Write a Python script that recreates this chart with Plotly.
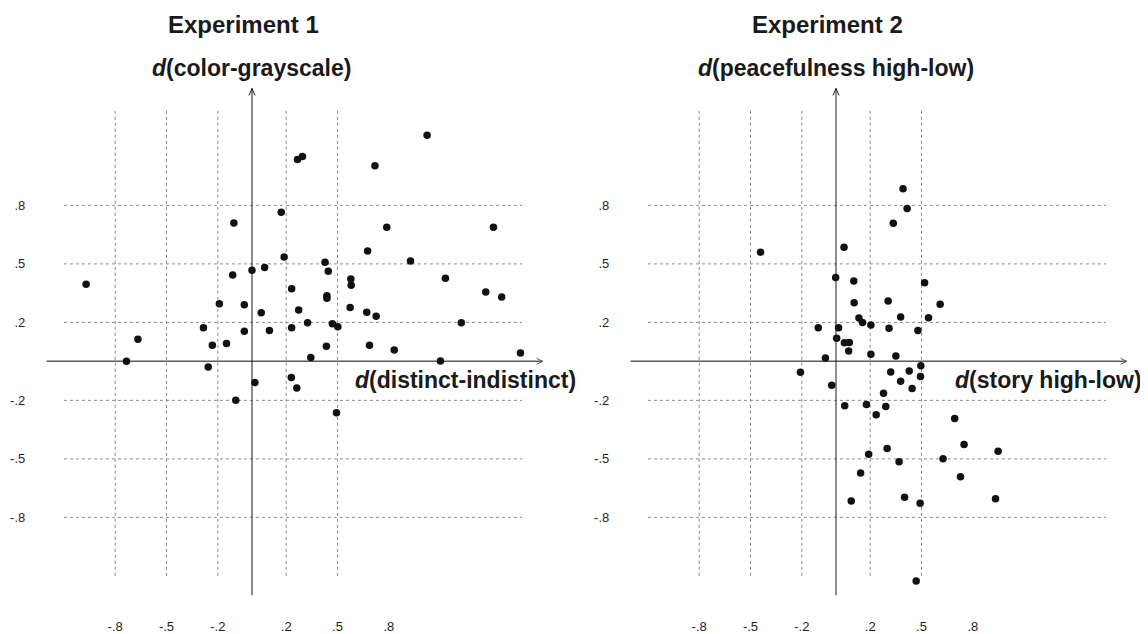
import plotly.graph_objects as go

# ---------------- data ----------------
exp1_x = [-0.970, -0.734, -0.667, -0.284, -0.232, -0.256, -0.191, -0.149, -0.113, -0.106,
          -0.045, -0.045, 0.000, 0.054, 0.074, 0.102, 0.171, 0.188, 0.232, 0.232,
          0.266, 0.295, 0.273, 0.325, 0.344, 0.427, 0.446, 0.438, 0.438, 0.435,
          0.470, 0.502, 0.574, 0.578, 0.580, 0.671, 0.676, 0.687, 0.719, 0.726,
          0.788, 0.832, 0.927, 1.024, 1.102, 1.131, 1.224, 1.367, 1.412, 1.460,
          1.570, 0.017, 0.230, 0.262, -0.095, 0.494]
exp1_y = [0.395, 0.000, 0.114, 0.172, 0.083, -0.029, 0.296, 0.092, 0.443, 0.710,
          0.291, 0.155, 0.467, 0.249, 0.481, 0.158, 0.765, 0.535, 0.373, 0.172,
          1.036, 1.051, 0.264, 0.198, 0.020, 0.508, 0.462, 0.337, 0.324, 0.078,
          0.193, 0.177, 0.276, 0.423, 0.390, 0.252, 0.566, 0.083, 1.004, 0.232,
          0.688, 0.058, 0.515, 1.160, 0.002, 0.426, 0.198, 0.356, 0.688, 0.330,
          0.043, -0.109, -0.083, -0.136, -0.199, -0.264]

exp2_x = [-0.441, 0.047, -0.002, 0.104, 0.106, 0.134, 0.155, 0.204, -0.104, 0.015,
          0.004, 0.049, 0.078, 0.074, -0.062, 0.204, 0.350, 0.305, 0.310, 0.378,
          0.335, 0.392, 0.416, 0.518, 0.541, 0.479, 0.609, -0.208, -0.025, 0.051,
          0.178, 0.235, 0.291, 0.278, 0.320, 0.378, 0.428, 0.445, 0.496, 0.494,
          0.694, 0.749, 0.948, 0.299, 0.191, 0.369, 0.626, 0.144, 0.728, 0.089,
          0.401, 0.492, 0.933, 0.469]
exp2_y = [0.560, 0.585, 0.430, 0.412, 0.301, 0.223, 0.199, 0.187, 0.172, 0.172,
          0.119, 0.095, 0.097, 0.053, 0.017, 0.036, 0.027, 0.310, 0.170, 0.228,
          0.709, 0.886, 0.784, 0.403, 0.224, 0.158, 0.293, -0.056, -0.122, -0.228,
          -0.221, -0.274, -0.231, -0.163, -0.054, -0.102, -0.049, -0.139, -0.022, -0.078,
          -0.293, -0.427, -0.461, -0.447, -0.476, -0.515, -0.500, -0.573, -0.592, -0.716,
          -0.697, -0.728, -0.704, -1.126]

x_tick_vals = [-0.8, -0.5, -0.2, 0.2, 0.5, 0.8]
x_tick_text = ["-.8", "-.5", "-.2", ".2", ".5", ".8"]
y_tick_vals = [0.8, 0.5, 0.2, -0.2, -0.5, -0.8]
y_tick_text = [".8", ".5", ".2", "-.2", "-.5", "-.8"]
vgrid_vals = [-0.8, -0.5, -0.2, 0.2, 0.5]
hgrid_vals = [0.8, 0.5, 0.2, -0.2, -0.5, -0.8]

panel_titles = ["Experiment 1", "Experiment 2"]
y_titles = ["<b><i>d</i>(color-grayscale)</b>", "<b><i>d</i>(peacefulness high-low)</b>"]
x_titles = ["<b><i>d</i>(distinct-indistinct)</b>", "<b><i>d</i>(story high-low)</b>"]
x_title_right = [0.5, 0.9965]

FONT = "Liberation Sans, Arial, Helvetica, sans-serif"
XR = [-1.25, 1.75]
YR = [-1.25, 1.45]
W, H = 1140, 626   # page body has an 8px default margin

fig = go.Figure()
fig.add_trace(go.Scatter(x=exp1_x, y=exp1_y, mode="markers", xaxis="x", yaxis="y",
                         marker=dict(color="#111111", size=7.5), showlegend=False,
                         cliponaxis=False))
fig.add_trace(go.Scatter(x=exp2_x, y=exp2_y, mode="markers", xaxis="x2", yaxis="y2",
                         marker=dict(color="#111111", size=7.5), showlegend=False,
                         cliponaxis=False))

tickfont = dict(family=FONT, size=13, color="#1e1e1e")
ydom = [0.043131, 0.886741]


def xaxis(dom, anchor):
    return dict(domain=dom, range=XR, showgrid=False, zeroline=False, showline=False,
                ticks="", tickvals=x_tick_vals, ticktext=x_tick_text, tickfont=tickfont,
                ticklabelstandoff=12, anchor=anchor)


def yaxis(anchor):
    return dict(domain=ydom, range=YR, showgrid=False, zeroline=False, showline=False,
                ticks="", tickvals=y_tick_vals, ticktext=y_tick_text, tickfont=tickfont,
                ticklabelstandoff=12, anchor=anchor)


fig.update_layout(
    width=W, height=H,
    margin=dict(l=0, r=0, t=0, b=0),
    paper_bgcolor="white", plot_bgcolor="white",
    font=dict(family=FONT, color="#111111"),
    xaxis=xaxis([0.026535, 0.476535], "y"),
    yaxis=yaxis("x"),
    xaxis2=xaxis([0.538816, 0.988816], "y2"),
    yaxis2=yaxis("x2"),
)

shapes = []
annotations = []
for i, (xa, ya) in enumerate([("x", "y"), ("x2", "y2")]):
    for gx in vgrid_vals:
        shapes.append(dict(type="line", xref=xa, yref=ya, x0=gx, x1=gx, y0=-1.1, y1=1.3,
                           line=dict(color="#8a8a8a", width=1, dash="dot"), layer="below"))
    for gy in hgrid_vals:
        shapes.append(dict(type="line", xref=xa, yref=ya, x0=-1.1, x1=1.58, y0=gy, y1=gy,
                           line=dict(color="#8a8a8a", width=1, dash="dot"), layer="below"))
    shapes.append(dict(type="line", xref=xa, yref=ya, x0=-1.2, x1=1.7, y0=0, y1=0,
                       line=dict(color="#5a5a5a", width=1.5), layer="below"))
    shapes.append(dict(type="line", xref=xa, yref=ya, x0=0, x1=0, y0=-1.2, y1=1.4,
                       line=dict(color="#1a1a1a", width=1), layer="below"))
    shapes.append(dict(type="path", xref=xa, yref=ya, xsizemode="pixel", ysizemode="pixel",
                       xanchor=1.7, yanchor=0, path="M-6,3 L0,0 L-6,-3",
                       line=dict(color="#5a5a5a", width=1), layer="below"))
    shapes.append(dict(type="path", xref=xa, yref=ya, xsizemode="pixel", ysizemode="pixel",
                       xanchor=0, yanchor=1.4, path="M-3,-7 L0,0 L3,-7",
                       line=dict(color="#1a1a1a", width=1), layer="below"))
    annotations.append(dict(xref=xa, yref="paper", x=-0.05, y=1 - 17 / H,
                            text="<b>" + panel_titles[i] + "</b>", showarrow=False,
                            xanchor="center", yanchor="middle",
                            font=dict(family=FONT, size=24, color="#1a1a1a")))
    annotations.append(dict(xref=xa, yref="paper", x=0.0, y=1 - 60 / H,
                            text=y_titles[i], showarrow=False,
                            xanchor="center", yanchor="middle",
                            font=dict(family=FONT, size=23, color="#1a1a1a")))
    annotations.append(dict(xref="paper", yref="paper", x=x_title_right[i], y=1 - 373 / H,
                            text=x_titles[i], showarrow=False,
                            xanchor="right", yanchor="middle",
                            font=dict(family=FONT, size=23, color="#1a1a1a")))

fig.update_layout(shapes=shapes, annotations=annotations)
fig.write_html("out.html")
